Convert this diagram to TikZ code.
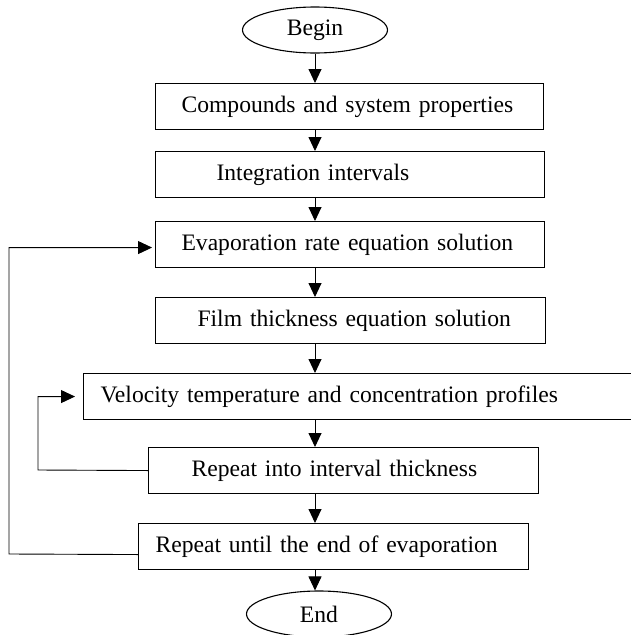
\documentclass[tikz,border=0pt]{standalone}
\usepackage{fontspec}
\setmainfont{Liberation Serif}
\usetikzlibrary{arrows.meta,shapes.geometric}

\tikzset{
  stage/.style={draw, line width=1.1pt, anchor=north west, align=left,
    minimum height=46pt, inner sep=0pt, font=\fontsize{23.6}{28}\selectfont},
  term/.style={draw, ellipse, line width=1.1pt, minimum width=145pt,
    minimum height=46pt, inner sep=0pt, font=\fontsize{23.6}{28}\selectfont},
  flow/.style={line width=0.9pt, -{Triangle[length=14pt,width=13pt]}}
}

\begin{document}
\begin{tikzpicture}[x=1pt,y=-1pt]
	\useasboundingbox (0,0) rectangle (630,635);
	% terminals
	\node [term] (begin) at (315,30) {Begin};
	\node [term] (end) at (319,614) {End};
	% stages
	\node [stage, text width=388pt] (cmp) at (155,83) {\hspace*{26pt}Compounds and system properties};
	\node [stage, text width=389pt] (intv) at (155,151) {\hspace*{61pt}Integration intervals};
	\node [stage, text width=389pt] (evap) at (155,221) {\hspace*{26pt}Evaporation rate equation solution};
	\node [stage, text width=390pt] (film) at (155,297) {\hspace*{42pt}Film thickness equation solution};
	\node [stage, text width=570pt] (vel) at (83,373) {\hspace*{17pt}Velocity temperature and concentration profiles};
	\node [stage, text width=390pt] (rep1) at (148,447) {\hspace*{43pt}Repeat into interval thickness};
	\node [stage, text width=390pt] (rep2) at (138,523) {\hspace*{17pt}Repeat until the end of evaporation};
	% main column
	\draw [flow] (begin.south) -- (begin.south |- cmp.north);
	\draw [flow] (cmp.south -| begin) -- (intv.north -| begin);
	\draw [flow] (intv.south -| begin) -- (evap.north -| begin);
	\draw [flow] (evap.south -| begin) -- (film.north -| begin);
	\draw [flow] (film.south -| begin) -- (vel.north -| begin);
	\draw [flow] (vel.south -| begin) -- (rep1.north -| begin);
	\draw [flow] (rep1.south -| begin) -- (rep2.north -| begin);
	\draw [flow] (rep2.south -| begin) -- (end.north -| begin);
	% loops
	\draw [flow, shorten >=8pt] (rep1.west) -- (38,470) |- (vel.west);
	\draw [flow, shorten >=3pt] ([yshift=-8pt]rep2.west) -- (9,554) |- ([yshift=-3pt]evap.west);
\end{tikzpicture}
\end{document}
